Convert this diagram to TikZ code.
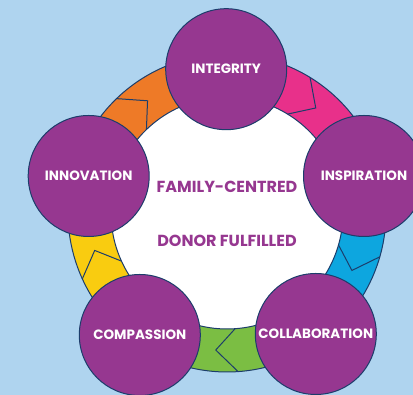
\documentclass[tikz,border=0pt]{standalone}
\usepackage{fontspec}
\setmainfont{Poppins}
\usepackage{tikz}
\definecolor{bgblue}{HTML}{AFD4EF}
\definecolor{navy}{HTML}{1C3D6B}
\definecolor{valpurple}{HTML}{963790}
\definecolor{segorange}{HTML}{EE7A27}
\definecolor{segpink}{HTML}{E8308A}
\definecolor{segblue}{HTML}{0DA6DF}
\definecolor{seggreen}{HTML}{7BBE43}
\definecolor{segyellow}{HTML}{F9CC10}

\begin{document}
\begin{tikzpicture}[x=1pt,y=1pt,
    value/.style={circle,fill=valpurple,draw=navy,line width=1pt,minimum size=121pt,
      inner sep=0pt,text=white,font=\bfseries\fontsize{13.5}{15}\selectfont},
    goal/.style={text=valpurple,font=\bfseries\fontsize{16}{18}\selectfont}]
    % Background
    \clip (0,0) rectangle (413,395);
    \fill[bgblue] (0,0) rectangle (413,395);
    \begin{scope}[shift={(227,182)}]
      % Inner disc
      \fill[white] (0,0) circle (116);
      % Drawing ring segments with their chevrons
      \foreach \col/\a/\b/\c in {segpink/15/90/58.5, segorange/90/165/134,
          segyellow/165/234.5/204.5, seggreen/234.5/306/274, segblue/306/375/344}{
        \draw[fill=\col, draw=navy, line width=1pt] (\a:159)
          arc[start angle=\a, end angle=\b, radius=159] -- (\b:116)
          arc[start angle=\b, end angle=\a, radius=116] -- cycle;
        \draw[navy, line width=1pt] (\c:159) -- ({\c-8.7}:137.5) -- (\c:116);
      }
    \end{scope}
    % Values
    \node[value] (integrity) at (226.2,325.8) {INTEGRITY};
    \node[value] (inspiration) at (364,219) {INSPIRATION};
    \node[value] (innovation) at (88.7,219) {INNOVATION};
    \node[value] (compassion) at (139.8,60) {COMPASSION};
    \node[value] (collaboration) at (315.8,61) {COLLABORATION};
    % Centre text
    \node[goal] (family) at (227,208) {FAMILY-CENTRED};
    \node[goal] (donor) at (227,154) {DONOR FULFILLED};
  \end{tikzpicture}
\end{document}
